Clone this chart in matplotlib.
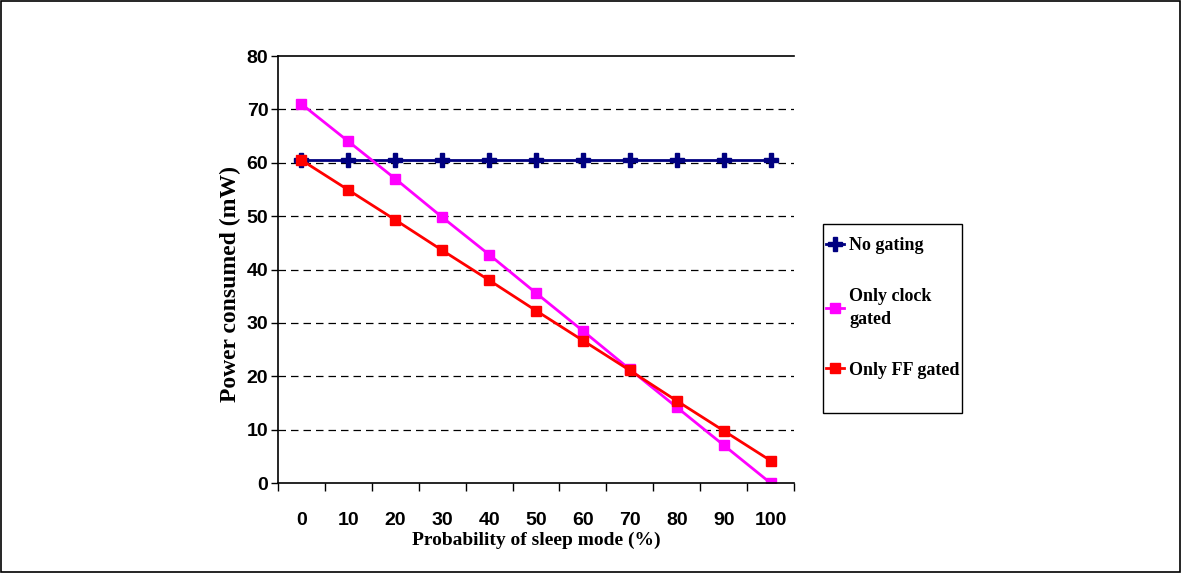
import matplotlib.pyplot as plt
from matplotlib.patches import Rectangle
from matplotlib.ticker import FixedLocator

probability = [0, 10, 20, 30, 40, 50, 60, 70, 80, 90, 100]
no_gating = [60.5, 60.5, 60.5, 60.5, 60.5, 60.5, 60.5, 60.5, 60.5, 60.5, 60.5]
clock_gated = [71, 64, 57, 49.8, 42.8, 35.6, 28.5, 21.3, 14.2, 7.1, 0]
ff_gated = [60.5, 54.9, 49.3, 43.6, 38.0, 32.3, 26.7, 21.1, 15.4, 9.8, 4.2]

fig = plt.figure(figsize=(11.81, 5.77), dpi=100)
ax = fig.add_axes([0.2354, 0.1629, 0.4369, 0.7400])

pos = list(range(len(probability)))
ax.plot(pos, no_gating, color='#000080', lw=2, marker='P', ms=10, mec='#000080', label='No gating')
ax.plot(pos, clock_gated, color='#FF00FF', lw=2, marker='s', ms=7.5, label='Only clock\ngated')
ax.plot(pos, ff_gated, color='#FF0000', lw=2, marker='s', ms=7.5, label='Only FF gated')

ax.set_xlim(-0.5, len(pos) - 0.5)
ax.set_ylim(0, 80)
ax.set_yticks(range(0, 81, 10))
ax.set_xticks(pos)
ax.set_xticklabels([str(p) for p in probability])
ax.xaxis.set_minor_locator(FixedLocator([p - 0.5 for p in pos] + [len(pos) - 0.5]))
ax.tick_params(axis='x', which='major', length=0, pad=21)
ax.tick_params(axis='x', which='minor', length=6, width=1, direction='out')
ax.tick_params(axis='y', length=5, width=1, direction='out', pad=2)

for lab in ax.get_xticklabels() + ax.get_yticklabels():
    lab.set_fontfamily('Liberation Sans')
    lab.set_fontweight('bold')
    lab.set_fontsize(14)

for y in range(10, 80, 10):
    ax.axhline(y, color='black', lw=0.9, ls=(0, (6, 4)), zorder=0)

ax.spines['right'].set_visible(False)
for s in ['left', 'bottom', 'top']:
    ax.spines[s].set_linewidth(1.2)

ax.set_xlabel('Probability of sleep mode (%)', fontfamily='Liberation Serif',
              fontweight='bold', fontsize=14, labelpad=2)
ax.set_ylabel('Power consumed (mW)', fontfamily='Liberation Serif',
              fontweight='bold', fontsize=17)
ax.yaxis.set_label_coords(-0.072, 0.465)

# legend box drawn by hand, entries placed frameless inside it
fig.patches.append(Rectangle((823 / 1181, 1 - 413 / 577), 139 / 1181, 189 / 577,
                             transform=fig.transFigure, fill=False,
                             edgecolor='black', lw=1.0))
leg = fig.legend(loc='upper left', bbox_to_anchor=(826 / 1181, 1 - 237 / 577),
                 frameon=False,
                 prop={'family': 'Liberation Serif', 'weight': 'bold', 'size': 13},
                 handlelength=1.0, handletextpad=0.3, labelspacing=1.9,
                 borderpad=0, borderaxespad=0)
for t in leg.get_texts():
    t.set_linespacing(1.4)

fig.patches.append(Rectangle((0.001, 0.008), 0.998, 0.99, transform=fig.transFigure,
                             fill=False, edgecolor='black', lw=1.2))

fig.savefig('out.png', dpi=100)
